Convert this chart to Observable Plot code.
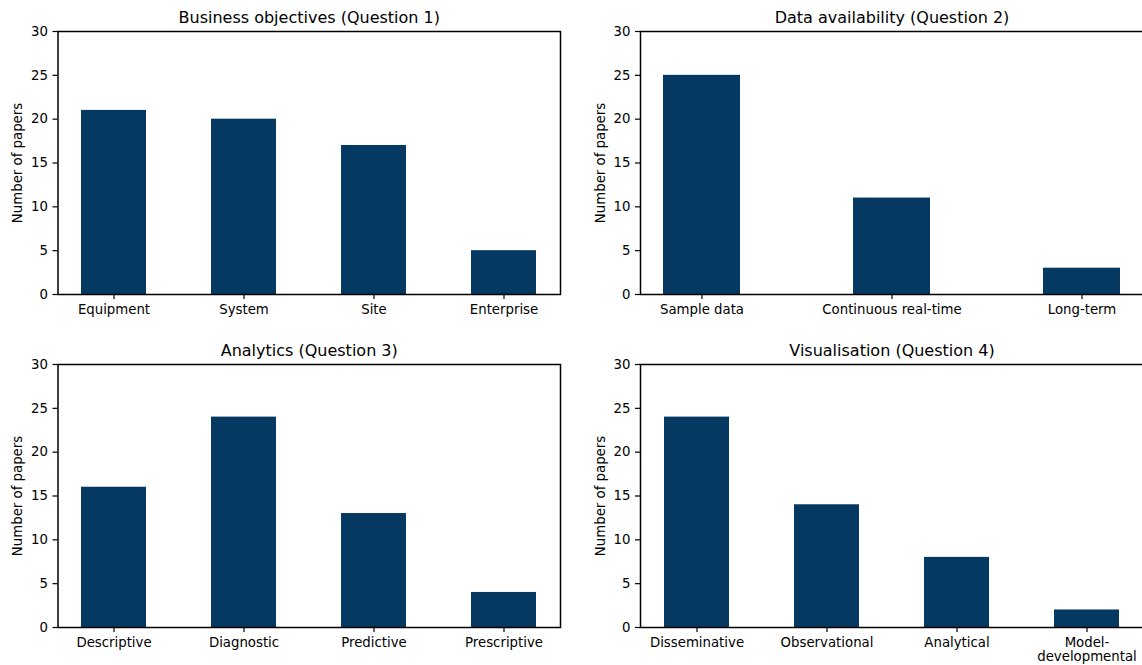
<!DOCTYPE html>
<html>
<head>
<meta charset="utf-8">
<script src="https://cdn.jsdelivr.net/npm/d3@7"></script>
<script src="https://cdn.jsdelivr.net/npm/@observablehq/plot@0.6"></script>
<style>
  html, body { margin: 0; padding: 0; background: #fff; }
  #wrap { position: relative; width: 1142px; height: 665px; overflow: hidden; background: #fff; }
  #wrap > div { position: absolute; width: 600px; }
  #wrap svg { max-width: none !important; overflow: visible; }
</style>
</head>
<body>
<div id="wrap">
  <div id="p1" style="left:0px;top:0px"></div>
  <div id="p2" style="left:571px;top:0px"></div>
  <div id="p3" style="left:0px;top:333px"></div>
  <div id="p4" style="left:571px;top:333px"></div>
</div>
<script>
// ---- data ----
const q1Title = "Business objectives (Question 1)";
const q1Categories = ["Equipment", "System", "Site", "Enterprise"];
const q1Values = [21, 20, 17, 5];

const q2Title = "Data availability (Question 2)";
const q2Categories = ["Sample data", "Continuous real-time", "Long-term"];
const q2Values = [25, 11, 3];

const q3Title = "Analytics (Question 3)";
const q3Categories = ["Descriptive", "Diagnostic", "Predictive", "Prescriptive"];
const q3Values = [16, 24, 13, 4];

const q4Title = "Visualisation (Question 4)";
const q4Categories = ["Disseminative", "Observational", "Analytical", "Model-\ndevelopmental"];
const q4Values = [24, 14, 8, 2];

const yTicks = [0, 5, 10, 15, 20, 25, 30];
const yLabel = "Number of papers";

const barColor = "#063961";

function panel(el, title, cats, vals, opts) {
  const data = cats.map((c, i) => ({cat: c, value: vals[i]}));
  const chart = Plot.plot({
    width: opts.width,
    height: 332,
    marginLeft: opts.marginLeft,
    marginRight: opts.marginRight,
    marginTop: 31,
    marginBottom: 38,
    style: {fontFamily: "'DejaVu Sans', sans-serif", fontSize: "13.3px", color: "black", background: "white", overflow: "visible", maxWidth: "none"},
    x: {domain: cats, paddingInner: opts.paddingInner, paddingOuter: opts.paddingOuter, label: null},
    y: {domain: [0, 30], label: null},
    marks: [
      Plot.barY(data, {x: "cat", y: "value", fill: barColor}),
      Plot.axisY({ticks: yTicks, tickSize: 5, tickPadding: 5, fontSize: 13.3, label: null, stroke: "black", strokeWidth: 1.2}),
      Plot.axisX({tickSize: 5, tickPadding: 4, fontSize: 13.3, lineHeight: 1.08, label: null, stroke: "black", strokeWidth: 1.2}),
      Plot.frame({stroke: "black", strokeWidth: 1.5}),
      Plot.text([title], {text: d => d, frameAnchor: "top", lineAnchor: "middle", textAnchor: "middle", dy: -14, fontSize: 16, fill: "black"}),
      Plot.text([yLabel], {text: d => d, frameAnchor: "left", textAnchor: "middle", lineAnchor: "middle", dx: -40, rotate: -90, fontSize: 13.3, fill: "black"})
    ]
  });
  document.getElementById(el).appendChild(chart);
}

const leftOpts = {width: 571, marginLeft: 57.5, marginRight: 11, paddingInner: 0.5, paddingOuter: 0.176};
const rightOpts4 = {width: 580, marginLeft: 69, marginRight: 8, paddingInner: 0.5, paddingOuter: 0.176};
const rightOpts3 = {width: 580, marginLeft: 69, marginRight: 8, paddingInner: 0.595, paddingOuter: 0.12};

panel("p1", q1Title, q1Categories, q1Values, leftOpts);
panel("p2", q2Title, q2Categories, q2Values, rightOpts3);
panel("p3", q3Title, q3Categories, q3Values, leftOpts);
panel("p4", q4Title, q4Categories, q4Values, rightOpts4);
</script>
</body>
</html>
